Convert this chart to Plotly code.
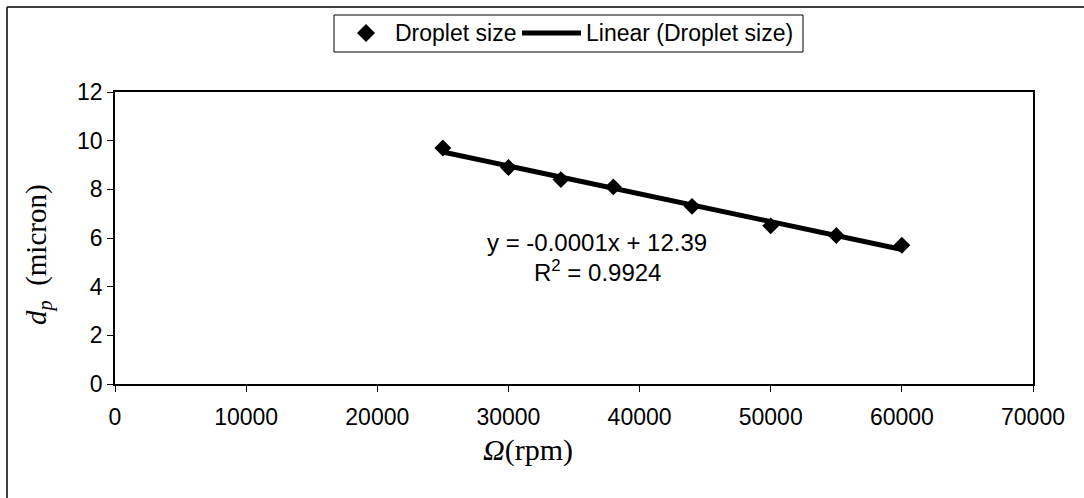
import numpy as np
import plotly.graph_objects as go

# Data
speed_rpm = [25000, 30000, 34000, 38000, 44000, 50000, 55000, 60000]
droplet_um = [9.7, 8.9, 8.4, 8.1, 7.3, 6.5, 6.1, 5.7]
x_ticks = [0, 10000, 20000, 30000, 40000, 50000, 60000, 70000]
y_ticks = [0, 2, 4, 6, 8, 10, 12]
series_names = ["Droplet size", "Linear (Droplet size)"]
eq_text = "y = -0.0001x + 12.39"
r2_text = "R<sup>2</sup> = 0.9924"

# linear fit from the data
slope, intercept = np.polyfit(speed_rpm, droplet_um, 1)
fit_x = [min(speed_rpm), max(speed_rpm)]
fit_y = [slope * v + intercept for v in fit_x]

W, H = 1084, 498
L, R, T, B = 115, 1033, 92, 384  # plot area pixels


def px(xp):
    return (xp - L) / (R - L)


def py(yp):
    return (B - yp) / (B - T)


fig = go.Figure()
fig.add_trace(go.Scatter(
    x=speed_rpm, y=droplet_um, mode="markers", name=series_names[0],
    marker=dict(symbol="diamond", size=13, color="black"), showlegend=False,
))
fig.add_trace(go.Scatter(
    x=fit_x, y=fit_y, mode="lines", name=series_names[1],
    line=dict(color="black", width=5), showlegend=False,
))

sans = "Liberation Sans, Arial"
serif = "Liberation Serif, Times New Roman"
tickfont = dict(family=sans, size=23, color="black")
fig.update_xaxes(
    range=[0, 70000], tickvals=x_ticks, ticktext=[str(v) for v in x_ticks],
    showgrid=False, zeroline=False, showline=True, linecolor="black", linewidth=1.5,
    mirror=True, ticks="outside", ticklen=6, tickcolor="black", tickfont=tickfont,
    ticklabelstandoff=6,
)
fig.update_yaxes(
    range=[0, 12], tickvals=y_ticks, ticktext=[str(v) for v in y_ticks],
    showgrid=False, zeroline=False, showline=True, linecolor="black", linewidth=1.5,
    mirror=True, ticks="outside", ticklen=6, tickcolor="black", tickfont=tickfont,
)

annfont = dict(family=sans, size=24, color="black")
legfont = dict(family=sans, size=23, color="black")
titlefont = dict(family=serif, size=30, color="black")
ytitlefont = dict(family=serif, size=29, color="black")

# custom legend geometry (pixels)
leg_y = 33
dx, dy = 9, 9
diamond_cx = 366
diamond_path = "M {},{} L {},{} L {},{} L {},{} Z".format(
    px(diamond_cx - dx), py(leg_y), px(diamond_cx), py(leg_y - dy),
    px(diamond_cx + dx), py(leg_y), px(diamond_cx), py(leg_y + dy))

fig.update_layout(
    width=W, height=H,
    margin=dict(l=L, r=W - R, t=T, b=H - B),
    paper_bgcolor="white", plot_bgcolor="white",
    showlegend=False,
    annotations=[
        dict(text=eq_text, x=px(597), y=py(242), xref="paper", yref="paper",
             showarrow=False, font=annfont, xanchor="center", yanchor="middle"),
        dict(text=r2_text, x=px(597), y=py(271), xref="paper", yref="paper",
             showarrow=False, font=annfont, xanchor="center", yanchor="middle"),
        dict(text="<i>Ω</i>(rpm)", x=px(528), y=py(450), xref="paper", yref="paper",
             showarrow=False, font=titlefont, xanchor="center", yanchor="middle"),
        dict(text="<i>d<sub>p</sub></i>  (micron)", x=px(38), y=py(255),
             xref="paper", yref="paper", textangle=-90,
             showarrow=False, font=ytitlefont, xanchor="center", yanchor="middle"),
        dict(text=series_names[0], x=px(393), y=py(leg_y), xref="paper", yref="paper",
             showarrow=False, font=legfont, xanchor="left", yanchor="middle"),
        dict(text=series_names[1], x=px(584), y=py(leg_y), xref="paper", yref="paper",
             showarrow=False, font=legfont, xanchor="left", yanchor="middle"),
    ],
    shapes=[
        dict(type="line", xref="paper", yref="paper", x0=px(7), x1=px(7),
             y0=py(7), y1=py(520), line=dict(color="black", width=1.5)),
        dict(type="line", xref="paper", yref="paper", x0=px(7), x1=px(1100),
             y0=py(7), y1=py(7), line=dict(color="black", width=1.5)),
        dict(type="rect", xref="paper", yref="paper", x0=px(334), x1=px(803),
             y0=py(15), y1=py(52), line=dict(color="black", width=1),
             fillcolor="white"),
        dict(type="path", xref="paper", yref="paper", path=diamond_path,
             fillcolor="black", line=dict(color="black", width=0)),
        dict(type="line", xref="paper", yref="paper", x0=px(522), x1=px(581),
             y0=py(leg_y), y1=py(leg_y), line=dict(color="black", width=5)),
    ],
)

fig.write_html("out.html")
